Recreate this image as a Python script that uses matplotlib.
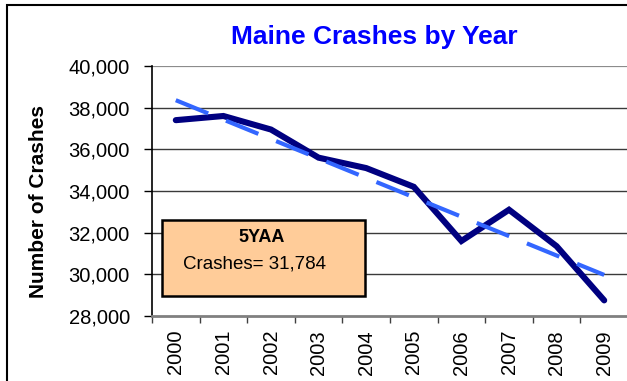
import numpy as np
import matplotlib
matplotlib.use("Agg")
import matplotlib.pyplot as plt
from matplotlib.patches import Rectangle

plt.rcParams['font.family'] = ['Liberation Sans', 'DejaVu Sans']

# Annual crash counts
years = ["2000", "2001", "2002", "2003", "2004", "2005", "2006", "2007", "2008", "2009"]
crashes = [37400, 37600, 36950, 35600, 35100, 34200, 31600, 33100, 31350, 28750]
y_ticks = [28000, 30000, 32000, 34000, 36000, 38000, 40000]
avg_label = "5YAA"
avg_text = "Crashes= 31,784"

W, H = 627, 381
fig = plt.figure(figsize=(W / 100, H / 100), dpi=100)


def fx(px):
    return px / W


def fy(py):
    return 1 - py / H


# Outer chart frame (runs off the right and bottom edges)
fig.add_artist(Rectangle((fx(6.5), fy(400)), fx(700), fy(4.5) - fy(400),
                         transform=fig.transFigure, fill=False,
                         edgecolor='black', linewidth=1.5, clip_on=False))

ax = fig.add_axes([fx(152), fy(316), fx(628) - fx(152), fy(66) - fy(316)])
ax.set_xlim(-0.5, len(years) - 0.5)
ax.set_ylim(y_ticks[0], y_ticks[-1])

x = np.arange(len(years))

# Horizontal gridlines
for v in y_ticks[1:-1]:
    ax.axhline(v, color='#3a3a3a', linewidth=1.0, zorder=1)
ax.axhline(y_ticks[-1], color='#8c8c8c', linewidth=1.6, zorder=1)

ax.plot(x, crashes, color='#000080', linewidth=4.4, solid_joinstyle='miter',
        solid_capstyle='round', zorder=3)

# Linear trend line
coef = np.polyfit(x, crashes, 1)
trend = np.polyval(coef, x)
ax.plot(x, trend, color='#3366FF', linewidth=3.0, dashes=(8.4, 4.6),
        dash_capstyle='butt', zorder=4)

for s in ['top', 'right']:
    ax.spines[s].set_visible(False)
ax.spines['left'].set_color('black')
ax.spines['left'].set_linewidth(1.2)
ax.spines['bottom'].set_color('#808080')
ax.spines['bottom'].set_linewidth(2.0)

ax.set_yticks(y_ticks)
ax.set_yticklabels([f"{v:,}" for v in y_ticks], fontsize=14.5)
ax.tick_params(axis='y', direction='out', length=6, width=1.0, color='black', pad=10)

ax.set_xticks(np.arange(-0.5, len(years), 1.0))
ax.set_xticklabels([])
ax.tick_params(axis='x', which='major', direction='out', length=5, width=1.0, color='#404040')
ax.set_xticks(x, minor=True)
ax.set_xticklabels(years, minor=True, rotation=90, fontsize=14.5)
ax.tick_params(axis='x', which='minor', length=0, pad=10)

# Title and axis label
fig.text(fx(374), fy(37), "Maine Crashes by Year", color='#0000FF', fontsize=19,
         fontweight='bold', ha='center', va='center')
fig.text(fx(39), fy(202), "Number of Crashes", fontsize=15, fontweight='bold',
         rotation=90, ha='center', va='center')

# Five-year average box
fig.add_artist(Rectangle((fx(162), fy(296)), fx(365) - fx(162), fy(220) - fy(296),
                         transform=fig.transFigure, facecolor='#FFCC99',
                         edgecolor='black', linewidth=1.8, zorder=5))
fig.text(fx(262), fy(237), avg_label, fontsize=13, fontweight='bold',
         ha='center', va='center', zorder=6)
fig.text(fx(183), fy(264), avg_text, fontsize=13.5, ha='left', va='center', zorder=6)

fig.savefig("out.png", dpi=100)
